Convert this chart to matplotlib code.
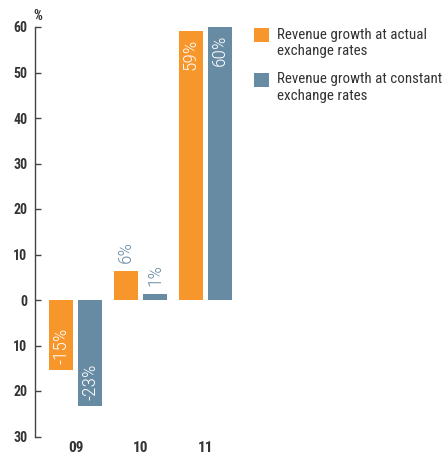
import matplotlib
matplotlib.use("Agg")
import matplotlib.pyplot as plt
from matplotlib.patches import Rectangle
import numpy as np

plt.rcParams["font.family"] = ["Roboto Condensed", "DejaVu Sans"]

# Data
years = ["09", "10", "11"]
actual = [-15.4, 6.4, 59.1]       # revenue growth at actual exchange rates (%)
constant = [-23.4, 1.3, 60.0]     # revenue growth at constant exchange rates (%)
series_names = ["Revenue growth at actual\nexchange rates",
                "Revenue growth at constant\nexchange rates"]
y_ticks = [60, 50, 40, 30, 20, 10, 0, -10, -20, -30]

ORANGE = "#F7962A"
BLUE = "#688BA4"
AXIS = "#444444"
TEXT = "#333333"

fig = plt.figure(figsize=(4.46, 4.55), dpi=100)
ax = fig.add_axes([35 / 446, 18.5 / 455, 205 / 446, 0.9])

x = np.arange(len(years))
w = 24 / 65
off = 14.5 / 65
bars_a = ax.bar(x - off, actual, width=w, color=ORANGE, linewidth=0)
bars_c = ax.bar(x + off, constant, width=w, color=BLUE, linewidth=0)

ax.set_ylim(-30, 60)
ax.set_xlim((35 - 75.5) / 65, (240 - 75.5) / 65)

for s in ["top", "right", "bottom"]:
    ax.spines[s].set_visible(False)
ax.spines["left"].set_color(AXIS)
ax.spines["left"].set_linewidth(1.0)

ax.set_yticks(y_ticks)
ax.set_yticklabels([str(abs(v)) for v in y_ticks])
ax.tick_params(axis="y", direction="in", length=4.5, width=1.0, color=AXIS,
               pad=5.5, labelsize=10, labelcolor=TEXT)
for lbl in ax.get_yticklabels():
    lbl.set_fontweight("bold")

ax.set_xticks(x)
ax.set_xticklabels(years)
ax.tick_params(axis="x", length=0, pad=3, labelsize=11, labelcolor=TEXT)
for lbl in ax.get_xticklabels():
    lbl.set_fontweight("bold")

fig.text(33 / 446, 1 - 16 / 455, "%", fontsize=10, fontweight="bold",
         color=TEXT, ha="left", va="center")

# Value labels: inside the bar end for large bars, above for small ones
px = 90 / 410  # data units per pixel (90 units over ~410 px)
for bars, vals in ((bars_a, actual), (bars_c, constant)):
    for b, v in zip(bars, vals):
        cx = b.get_x() + b.get_width() / 2
        txt = f"{round(v):d}%"
        if abs(v) >= 10:
            if v > 0:
                ax.text(cx, v - 8 * px, txt, rotation=90, ha="center", va="top",
                        color="white", fontsize=14, fontweight="light")
            else:
                ax.text(cx, v + 6 * px, txt, rotation=90, ha="center", va="bottom",
                        color="white", fontsize=14, fontweight="light")
        else:
            ax.text(cx, v + 8 * px, txt, rotation=90, ha="center", va="bottom",
                    color=BLUE, fontsize=14, fontweight="light")

# Legend
for i, (name, col) in enumerate(zip(series_names, [ORANGE, BLUE])):
    top = 28 + i * 45
    fig.patches.append(Rectangle((254 / 446, 1 - (top + 14) / 455), 15 / 446, 14 / 455,
                                 transform=fig.transFigure, color=col, linewidth=0))
    fig.text(277 / 446, 1 - (top - 0.5) / 455, name, fontsize=10.8, color=TEXT,
             ha="left", va="top", linespacing=1.25)

fig.savefig("out.png", dpi=100)
